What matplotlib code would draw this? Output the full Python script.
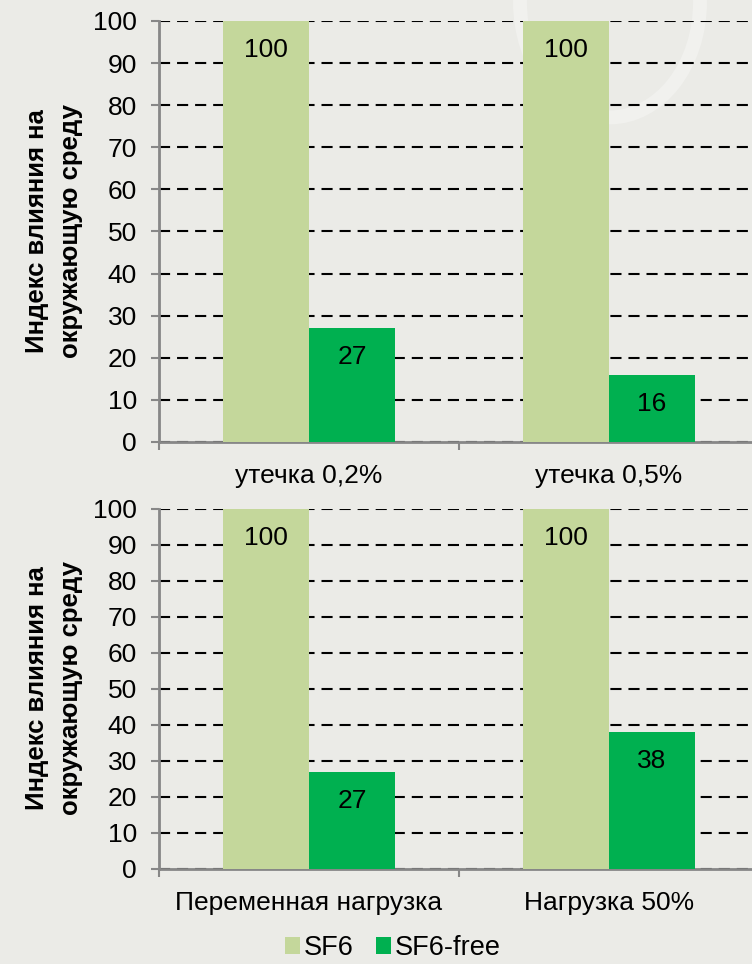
import matplotlib
matplotlib.use("Agg")
import matplotlib.pyplot as plt
from matplotlib.patches import Circle, Patch
import numpy as np

plt.rcParams['font.family'] = ['Liberation Sans', 'DejaVu Sans']
plt.rcParams['lines.scale_dashes'] = False

series_names = ["SF6", "SF6-free"]
top_categories = ["утечка 0,2%", "утечка 0,5%"]
top_sf6 = [100, 100]
top_free = [27, 16]
bottom_categories = ["Переменная нагрузка", "Нагрузка 50%"]
bottom_sf6 = [100, 100]
bottom_free = [27, 38]
yticks = [0, 10, 20, 30, 40, 50, 60, 70, 80, 90, 100]
ylabel = "Индекс влияния на\nокружающую среду"

BG = "#ebebe7"
C_SF6 = "#c4d79b"
C_FREE = "#00b050"
AX_GRAY = "#878787"

W, H = 752, 964
fig = plt.figure(figsize=(W / 100, H / 100), dpi=100, facecolor=BG)

# faint watermark ring
ring = Circle((610 / W, 1 - 2 / H), 90 / W, transform=fig.transFigure,
              fill=False, ec="white", lw=10, alpha=0.3, zorder=-1)
fig.patches.append(ring)

def draw(ax, cats, sf6, free):
    ax.set_facecolor("none")
    x = np.arange(len(cats))
    bw = 0.287
    b1 = ax.bar(x - bw / 2, sf6, bw, color=C_SF6, zorder=3)
    b2 = ax.bar(x + bw / 2, free, bw, color=C_FREE, zorder=3)
    for bars, vals in ((b1, sf6), (b2, free)):
        for rect, v in zip(bars, vals):
            ax.annotate(f"{v}", xy=(rect.get_x() + rect.get_width() / 2, v),
                        xytext=(0, -21), textcoords="offset points",
                        ha="center", va="center", fontsize=19, color="black", zorder=4)
    ax.set_xlim(-0.5, len(cats) - 0.5)
    ax.set_ylim(0, 100)
    ax.set_yticks(yticks)
    ax.tick_params(axis="y", labelsize=19, colors=AX_GRAY, labelcolor="black",
                   length=6, width=1.5, pad=10)
    ax.set_xticks(x)
    ax.set_xticklabels(cats, fontsize=19)
    ax.tick_params(axis="x", length=0, pad=16, labelcolor="black")
    ax.set_xticks(np.arange(len(cats) + 1) - 0.5, minor=True)
    ax.tick_params(axis="x", which="minor", length=6, width=1.5, colors=AX_GRAY)
    ax.yaxis.grid(True, color="black", linestyle=(0, (8, 5)), linewidth=1.5, zorder=1)
    ax.set_axisbelow(True)
    for s in ("top", "right"):
        ax.spines[s].set_visible(False)
    for s in ("left", "bottom"):
        ax.spines[s].set_color(AX_GRAY)
        ax.spines[s].set_linewidth(2)

left = 159 / W
width = 600 / W
ax1 = fig.add_axes([left, 1 - 442 / H, width, (442 - 21) / H])
ax2 = fig.add_axes([left, 1 - 869 / H, width, (869 - 509) / H])
draw(ax1, top_categories, top_sf6, top_free)
draw(ax2, bottom_categories, bottom_sf6, bottom_free)

for ax, yc in ((ax1, 231.5), (ax2, 688)):
    fig.text(54 / W, 1 - yc / H, ylabel, rotation=90, ha="center", va="center",
             fontsize=18.5, fontweight="bold", linespacing=1.5)

handles = [Patch(facecolor=C_SF6), Patch(facecolor=C_FREE)]
fig.legend(handles, series_names, loc="center", bbox_to_anchor=(393 / W, 1 - 948 / H),
           ncol=2, frameon=False, fontsize=19.5, handlelength=0.55, handleheight=0.55,
           handletextpad=0.15, columnspacing=0.8, borderpad=0, borderaxespad=0)

fig.savefig("out.png", dpi=100, facecolor=BG)
